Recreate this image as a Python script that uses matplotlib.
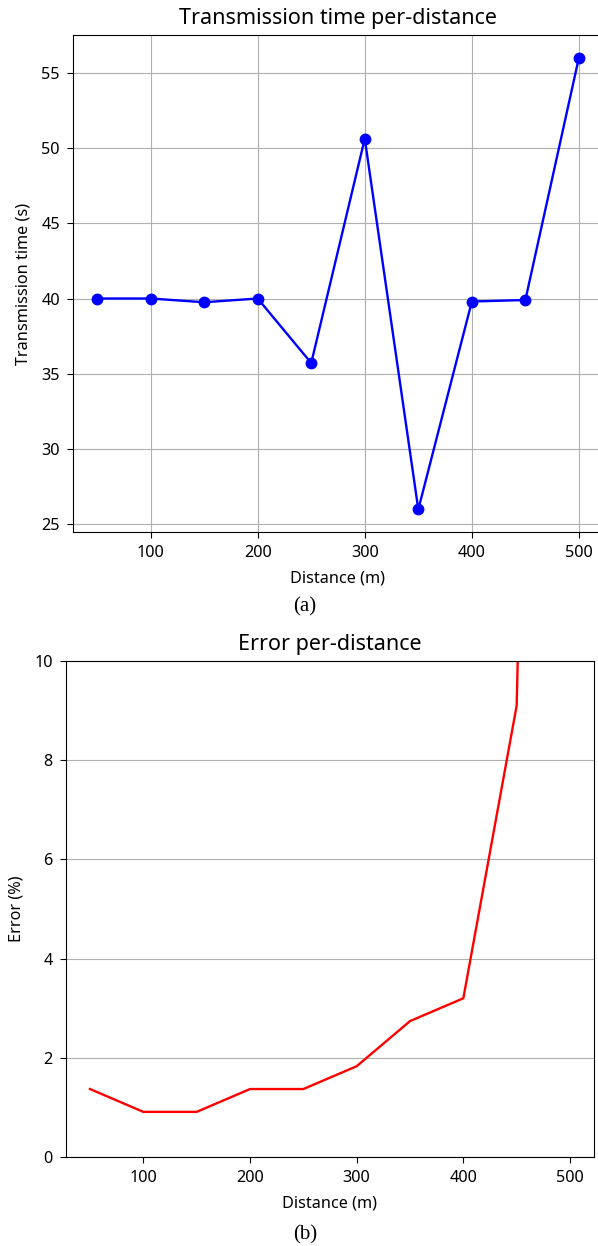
import matplotlib.pyplot as plt

plt.rcParams['font.family'] = ['Noto Sans', 'DejaVu Sans']

distance = [50, 100, 150, 200, 250, 300, 350, 400, 450, 500]
trans_time = [40.0, 40.0, 39.75, 40.0, 35.7, 50.65, 25.95, 39.8, 39.9, 56.05]
error_pct = [1.37, 0.91, 0.91, 1.37, 1.37, 1.83, 2.74, 3.2, 9.1, 55.0]

W, H = 598, 1246
fig = plt.figure(figsize=(W / 100, H / 100), dpi=100)

# top panel (a)
ax1 = fig.add_axes([73 / W, 1 - 532 / H, (603 - 73) / W, (532 - 35) / H])
ax1.plot(distance, trans_time, color='blue', marker='o', markersize=7.5, lw=1.7)
ax1.set_title('Transmission time per-distance', fontsize=15.5, pad=8)
ax1.set_xlabel('Distance (m)', fontsize=11.7, labelpad=7)
ax1.set_ylabel('Transmission time (s)', fontsize=11.7, labelpad=7)
ax1.grid(True)
ax1.tick_params(labelsize=11.7, length=4.5, pad=5)

# bottom panel (b)
ax2 = fig.add_axes([66 / W, 1 - 1157 / H, (594 - 66) / W, (1157 - 661) / H])
ax2.plot(distance, error_pct, color='red', lw=1.7)
ax2.set_ylim(0, 10)
ax2.set_title('Error per-distance', fontsize=15.5, pad=8)
ax2.set_xlabel('Distance (m)', fontsize=11.7, labelpad=7)
ax2.set_ylabel('Error (%)', fontsize=11.7, labelpad=7)
ax2.grid(True, axis='y')
ax2.tick_params(labelsize=11.7, length=4.5, pad=5)

fig.text(305 / W, 1 - 607 / H, '(a)', family='Liberation Serif', fontsize=15,
         ha='center', va='center')
fig.text(305 / W, 1 - 1235 / H, '(b)', family='Liberation Serif', fontsize=15,
         ha='center', va='center')

fig.savefig('out.png', dpi=100)
